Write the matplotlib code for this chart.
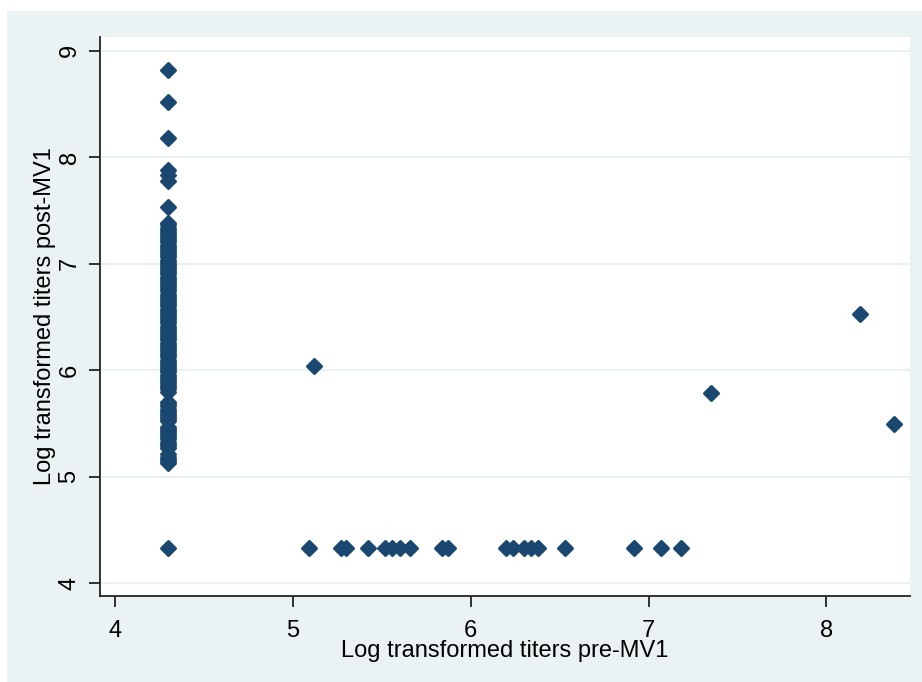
import matplotlib.pyplot as plt
from matplotlib.patches import Rectangle

# pre-MV1 titers at the lower detection limit, with their post-MV1 titers
low_pre = 4.3
low_post = [8.82, 8.52, 8.18, 7.88, 7.83, 7.78, 7.53,
            7.38, 7.36, 7.34, 7.32, 7.30, 7.28, 7.26, 7.24, 7.22, 7.20,
            7.18, 7.16, 7.14, 7.12, 7.10, 7.08, 7.06, 7.04, 7.02, 7.00,
            6.98, 6.96, 6.94, 6.92, 6.90, 6.88, 6.86, 6.84, 6.82, 6.80,
            6.78, 6.76, 6.74, 6.72, 6.70, 6.68, 6.66, 6.64, 6.62, 6.60,
            6.58, 6.56, 6.54, 6.52, 6.50, 6.48, 6.46, 6.44, 6.42, 6.40,
            6.38, 6.36, 6.34, 6.32, 6.30, 6.28, 6.26, 6.24, 6.22, 6.20,
            6.18, 6.16, 6.14, 6.12, 6.10, 6.08, 6.06, 6.04, 6.02, 6.00,
            5.98, 5.96, 5.94, 5.92, 5.90, 5.88, 5.86, 5.84, 5.82, 5.80,
            5.70, 5.68, 5.66, 5.64, 5.62, 5.60, 5.58, 5.56, 5.54, 5.52,
            5.47, 5.45, 5.43, 5.41, 5.39, 5.37, 5.35, 5.33, 5.31, 5.29,
            5.27, 5.21, 5.19, 5.17, 5.15, 5.13,
            4.33]

# subjects whose post-MV1 titer sits at the detection limit
floor_post = 4.33
floor_pre = [5.09, 5.27, 5.30, 5.42, 5.52, 5.56, 5.60, 5.66, 5.84, 5.87,
             6.20, 6.24, 6.30, 6.34, 6.38, 6.53, 6.92, 7.07, 7.18]

# remaining subjects
other_pre = [5.12, 7.35, 8.19, 8.38]
other_post = [6.04, 5.79, 6.53, 5.50]

x_ticks = [4, 5, 6, 7, 8]
y_ticks = [4, 5, 6, 7, 8, 9]

navy = '#1A476F'
bg = '#EAF2F3'

plt.rcParams['font.family'] = ['Liberation Sans', 'DejaVu Sans']

fig = plt.figure(figsize=(9.22, 6.82), dpi=100, facecolor='white')
fig.patches.append(Rectangle((7 / 922, 0), 1, 1 - 11 / 682, transform=fig.transFigure,
                             facecolor=bg, edgecolor='none', zorder=-5))

ax = fig.add_axes([100 / 922, 1 - 596 / 682, 810 / 922, 559 / 682])
ax.set_facecolor('white')

xs = [low_pre] * len(low_post) + floor_pre + other_pre
ys = low_post + [floor_post] * len(floor_pre) + other_post
# rounded diamonds: a thick edge with round joins softens the corners
ax.scatter(xs, ys, marker='D', s=50, color=navy, edgecolors=navy, linewidths=2.2,
           zorder=3).set_joinstyle('round')

ax.set_xlim(3.916, 8.47)
ax.set_ylim(3.88, 9.13)
ax.set_xticks(x_ticks)
ax.set_yticks(y_ticks)
ax.yaxis.grid(True, color=bg, linewidth=1.6)
ax.set_axisbelow(True)

for side in ['top', 'right']:
    ax.spines[side].set_visible(False)
for side in ['left', 'bottom']:
    ax.spines[side].set_linewidth(1.3)
    ax.spines[side].set_color('#222222')

ax.tick_params(axis='both', direction='out', length=8, width=1.3, color='#222222',
               labelsize=17)
ax.tick_params(axis='x', pad=9)
ax.tick_params(axis='y', pad=6)
for lbl in ax.get_yticklabels():
    lbl.set_rotation(90)
    lbl.set_va('center')

ax.set_xlabel('Log transformed titers pre-MV1', fontsize=17, labelpad=-1)
ax.set_ylabel('Log transformed titers post-MV1', fontsize=17, labelpad=2)

fig.savefig('out.png', dpi=100, facecolor=fig.get_facecolor())
